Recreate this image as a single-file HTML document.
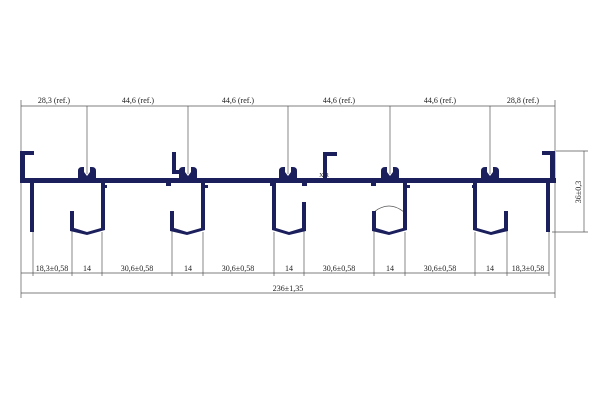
<!DOCTYPE html>
<html><head><meta charset="utf-8"><style>html,body{margin:0;padding:0;background:#fff}svg{display:block}</style></head><body>
<svg width="600" height="400" viewBox="0 0 600 400" xmlns="http://www.w3.org/2000/svg" font-family="Liberation Serif, serif">
<defs><path id="c" d="M-9 181 L-9 171 Q-9 167 -5 167 L-3 167 L-3 172 L0 176 L3 172 L3 167 L5 167 Q9 167 9 171 L9 181Z"/></defs>
<g stroke="#555" stroke-width="0.7" fill="none">
<line x1="21" y1="106" x2="555" y2="106"/>
<line x1="21" y1="100" x2="21" y2="298"/>
<line x1="555" y1="100" x2="555" y2="298"/>
<line x1="87" y1="106" x2="87" y2="174"/>
<line x1="188" y1="106" x2="188" y2="174"/>
<line x1="288" y1="106" x2="288" y2="174"/>
<line x1="390" y1="106" x2="390" y2="174"/>
<line x1="490" y1="106" x2="490" y2="174"/>
<line x1="21" y1="273" x2="549" y2="273"/>
<line x1="21" y1="293" x2="555" y2="293"/>
<g>
<line x1="33" y1="232" x2="33" y2="276"/><line x1="72" y1="230" x2="72" y2="276"/><line x1="102" y1="232" x2="102" y2="276"/>
<line x1="172" y1="230" x2="172" y2="276"/><line x1="203" y1="232" x2="203" y2="276"/><line x1="274" y1="232" x2="274" y2="276"/>
<line x1="304" y1="230" x2="304" y2="276"/><line x1="374" y1="230" x2="374" y2="276"/><line x1="405" y1="232" x2="405" y2="276"/>
<line x1="475" y1="232" x2="475" y2="276"/><line x1="507" y1="230" x2="507" y2="276"/><line x1="549" y1="232" x2="549" y2="276"/>
</g>
<line x1="556" y1="151" x2="588" y2="151"/>
<line x1="552" y1="232" x2="588" y2="232"/>
<line x1="584" y1="151" x2="584" y2="232"/>
<path d="M374 212 Q389 200 404 212"/>
</g>
<g fill="#1b1f5c">
<rect x="20" y="178" width="536" height="5"/>
<rect x="20" y="151" width="5" height="32"/><rect x="20" y="151" width="14" height="4"/>
<rect x="30" y="182" width="4" height="50"/>
<rect x="550" y="151" width="5" height="32"/><rect x="542" y="151" width="13" height="4"/>
<rect x="546" y="182" width="4" height="50"/>
<rect x="323" y="152" width="4" height="28"/><rect x="323" y="152" width="14" height="4"/>
<rect x="172" y="152" width="4" height="20"/><rect x="172" y="170" width="8" height="4"/>
<use href="#c" x="87"/><use href="#c" x="188"/><use href="#c" x="288"/><use href="#c" x="390"/><use href="#c" x="490"/>
<path d="M70 211h4v17l13 4l14-4v-46h4v48l-18 5l-17-4z"/>
<rect x="102" y="185" width="5" height="3"/>
<path d="M170 211h4v17l13 4l14-4v-46h4v48l-18 5l-17-4z"/>
<rect x="166" y="183" width="5" height="3"/><rect x="203" y="185" width="5" height="3"/>
<path d="M306 202h-4v26l-13 4l-13-4v-46h-4v48l17 5l17-4z"/>
<rect x="270" y="183" width="5" height="3"/><rect x="302" y="183" width="5" height="3"/>
<path d="M372 211h4v17l13 4l14-4v-46h4v48l-18 5l-17-4z"/>
<rect x="371" y="183" width="5" height="3"/><rect x="405" y="185" width="5" height="3"/>
<path d="M508 211h-4v17l-13 4l-14-4v-46h-4v48l18 5l17-4z"/>
<rect x="472" y="185" width="5" height="3"/>
</g>
<g font-size="8" fill="#222" text-anchor="middle">
<text x="54" y="103">28,3 (ref.)</text>
<text x="138" y="103">44,6 (ref.)</text>
<text x="238" y="103">44,6 (ref.)</text>
<text x="339" y="103">44,6 (ref.)</text>
<text x="440" y="103">44,6 (ref.)</text>
<text x="523" y="103">28,8 (ref.)</text>
<text x="52" y="271">18,3±0,58</text>
<text x="87" y="271">14</text>
<text x="137" y="271">30,6±0,58</text>
<text x="188" y="271">14</text>
<text x="238" y="271">30,6±0,58</text>
<text x="289" y="271">14</text>
<text x="339" y="271">30,6±0,58</text>
<text x="390" y="271">14</text>
<text x="440" y="271">30,6±0,58</text>
<text x="490" y="271">14</text>
<text x="528" y="271">18,3±0,58</text>
<text x="288" y="291">236±1,35</text>
<text x="0" y="0" transform="translate(581 192) rotate(-90)">36±0,3</text>
<text x="324" y="177" font-size="6">X R</text>
</g>
</svg>
</body></html>
